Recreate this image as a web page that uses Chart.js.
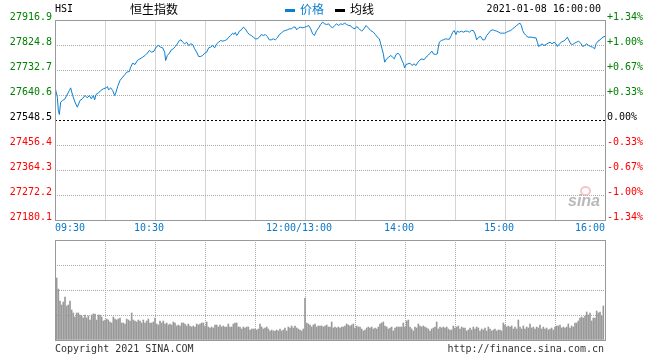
<!DOCTYPE html>
<html>
<head>
<meta charset="utf-8">
<script src="https://cdn.jsdelivr.net/npm/chart.js@4"></script>
<style>
  body { margin: 0; background: #fff; }
  #wrap { position: relative; width: 660px; height: 360px; overflow: hidden; font-family: "DejaVu Sans Mono", monospace; font-size: 10px; color: #000; }
  .t { position: absolute; white-space: nowrap; line-height: 12px; }
  .cjk { font-family: "Noto Sans CJK SC", sans-serif; font-size: 12px; line-height: 14px; }
  .key { position: absolute; width: 10px; height: 3px; }
  #cvPrice { position: absolute; left: 0; top: 0; }
  #cvVol { position: absolute; left: 0; top: 230px; }
  #logo { position: absolute; left: 568px; top: 193px; font: italic bold 16px "Liberation Sans", sans-serif; line-height: 16px; color: rgba(160,160,160,0.75); }
  #eye { position: absolute; left: 580px; top: 186px; width: 7px; height: 6px; border: 2px solid rgba(240,150,150,0.55); border-radius: 50%; }
</style>
</head>
<body>
<div id="wrap">
  <canvas id="cvPrice" width="660" height="240"></canvas>
  <canvas id="cvVol" width="660" height="120"></canvas>

  <div class="t" style="left:55px; top:3px;">HSI</div>
  <div class="t cjk" style="left:130px; top:2px;">恒生指数</div>
  <div class="key" style="left:285px; top:9px; background:#0a7fd0;"></div>
  <div class="t cjk" style="left:300px; top:2px; color:#0a7fd0;">价格</div>
  <div class="key" style="left:335px; top:9px; background:#000;"></div>
  <div class="t cjk" style="left:350px; top:2px;">均线</div>
  <div class="t" style="right:59px; top:3px;">2021-01-08 16:00:00</div>

  <div id="eye"></div>
  <div id="logo">sina</div>

  <div class="t" style="left:55px; top:343px; color:#333;">Copyright 2021 SINA.COM</div>
  <div class="t" style="right:56px; top:343px; color:#333;">http://finance.sina.com.cn</div>
</div>

<script>
// ---- dados ----
const prevClose = 27548.5;

// minutos de pregão desde 09:30 (almoço 12:00-13:00 removido)
const priceMinutes = [
  0, 1.4, 2, 2.6, 3.4, 4.6, 6, 7, 8.6, 9.4, 10.6, 12, 13.4, 15, 16.4, 18, 19.4, 20.6, 21.8, 23,
  23.8, 24.6, 26, 27.4, 29, 30.6, 31.4, 32.2, 33.4, 34.6, 35.8, 36.6, 37.8, 39, 40.6, 42, 43, 44.6, 45.4, 46.6,
  48, 49.4, 51, 52.6, 54, 55.4, 56.6, 58, 59.4, 60.6, 62, 63.4, 64.6, 65.8, 66.4, 67.4, 68.6, 69.8, 71, 72.2,
  73.4, 74.6, 75.6, 76.6, 77.8, 79, 80.2, 81.4, 82.6, 83.8, 85, 86.2, 87.4, 88.6, 89.8, 91, 92.2, 93.4, 94.6, 95.8,
  97, 98.2, 99.4, 100.6, 101.8, 103, 104.2, 105.4, 106.6, 107.4, 108.2, 109, 109.8, 110.6, 111.8, 113, 114.2, 115.4, 116.6, 117.8,
  119, 120.2, 121.4, 122.6, 123.8, 125, 126.2, 127.4, 128.6, 129.8, 131, 132.2, 133.4, 134.6, 135.8, 137, 138.2, 139.4, 140.6, 141.8,
  143, 144.2, 145, 146.2, 147.4, 148.6, 149.8, 151, 152.2, 153.4, 154.6, 155.6, 157, 158.2, 159.4, 160.6, 161.8, 163, 164.2, 165.4,
  166.6, 167.8, 169, 170.2, 171.4, 172.6, 173.8, 175, 176.2, 177, 178.6, 180, 181, 182.6, 184, 185.4, 186.6, 188, 189.4, 191,
  192.2, 193.4, 194.6, 195.4, 196.2, 197, 197.8, 199, 200.2, 201.4, 202.6, 203.6, 204.6, 205.8, 207, 208.2, 209, 209.8, 210.6, 211.8,
  213, 214.2, 215.4, 216.6, 217.8, 219, 220.2, 221.4, 222.6, 223.8, 225, 226.2, 227, 228.2, 229.4, 230, 230.6, 231.8, 233, 234.2,
  235.4, 236.6, 237.8, 238.6, 239.4, 240.6, 241.4, 242.6, 243.8, 245, 246.2, 247.4, 248.6, 249.8, 251, 252, 253, 254.2, 255.4, 256.6,
  257.8, 259, 260.2, 261.4, 262.6, 263.8, 265, 266.2, 267.4, 268.6, 269.8, 271, 272.2, 273.4, 274.6, 275.8, 277, 278.2, 279, 279.8,
  280.6, 281.4, 282.6, 283.8, 285, 286.2, 287.4, 288.6, 289.4, 290.2, 291, 292.2, 293.4, 294.6, 295.8, 297, 298.2, 299.4, 300.6, 301.4,
  302.6, 303.8, 305, 306.2, 307.4, 308.2, 309.4, 310.6, 311.8, 313, 314.2, 315.4, 316.6, 317.8, 319, 320.2, 321.4, 322.6, 323.8, 324.6,
  325.8, 327, 328.2, 329.4, 330
];

const priceValues = [
  27671.3, 27634.5, 27585.3, 27570.6, 27616.0, 27622.2, 27628.3, 27640.6, 27659.0, 27668.8, 27640.6, 27616.0, 27597.6, 27622.2, 27628.3, 27640.6, 27632.0, 27640.6, 27628.3, 27640.6,
  27624.6, 27644.3, 27649.2, 27659.0, 27665.2, 27668.8, 27673.8, 27661.5, 27668.8, 27659.0, 27640.6, 27652.9, 27677.4, 27695.9, 27708.1, 27718.0, 27726.6, 27729.0, 27745.0, 27759.7,
  27754.8, 27769.5, 27775.7, 27781.8, 27788.0, 27796.6, 27806.4, 27800.2, 27803.9, 27818.7, 27824.8, 27818.7, 27816.2, 27800.2, 27769.5, 27788.0, 27796.6, 27808.8, 27812.5, 27821.1,
  27830.9, 27843.2, 27845.7, 27837.1, 27830.9, 27837.1, 27824.8, 27830.9, 27828.5, 27812.5, 27800.2, 27784.3, 27784.3, 27788.0, 27796.6, 27800.2, 27816.2, 27818.7, 27824.8, 27816.2,
  27830.9, 27837.1, 27843.2, 27840.8, 27843.2, 27845.7, 27855.5, 27861.6, 27870.2, 27865.3, 27872.7, 27861.6, 27867.8, 27877.6, 27882.5, 27892.3, 27886.2, 27873.9, 27865.3, 27861.6,
  27855.5, 27849.4, 27849.4, 27855.5, 27865.3, 27861.6, 27865.3, 27857.9, 27845.7, 27845.7, 27849.4, 27845.7, 27853.0, 27865.3, 27870.2, 27877.6, 27880.0, 27882.5, 27886.2, 27886.2,
  27892.3, 27892.3, 27882.5, 27889.9, 27892.3, 27889.9, 27892.3, 27894.8, 27898.5, 27886.2, 27867.8, 27861.6, 27880.0, 27889.9, 27902.2, 27910.8, 27904.6, 27902.2, 27904.6, 27894.8,
  27889.9, 27898.5, 27904.6, 27898.5, 27904.6, 27902.2, 27907.1, 27902.2, 27898.5, 27898.5, 27889.9, 27886.2, 27894.8, 27886.2, 27877.6, 27886.2, 27898.5, 27889.9, 27880.0, 27873.9,
  27865.3, 27855.5, 27849.4, 27830.9, 27812.5, 27794.1, 27763.4, 27775.7, 27781.8, 27788.0, 27781.8, 27775.7, 27791.6, 27796.6, 27788.0, 27769.5, 27759.7, 27742.5, 27754.8, 27757.3,
  27759.7, 27751.1, 27757.3, 27751.1, 27763.4, 27772.0, 27775.7, 27772.0, 27781.8, 27788.0, 27796.6, 27803.9, 27794.1, 27791.6, 27794.1, 27818.7, 27837.1, 27843.2, 27845.7, 27849.4,
  27848.1, 27848.1, 27861.6, 27873.9, 27880.0, 27865.3, 27877.6, 27873.9, 27877.6, 27873.9, 27877.6, 27877.6, 27873.9, 27880.0, 27880.0, 27867.8, 27845.7, 27855.5, 27857.9, 27845.7,
  27845.7, 27861.6, 27870.2, 27880.0, 27882.5, 27880.0, 27877.6, 27873.9, 27870.2, 27870.2, 27870.2, 27873.9, 27877.6, 27880.0, 27886.2, 27892.3, 27898.5, 27904.6, 27907.1, 27898.5,
  27880.0, 27870.2, 27861.6, 27855.5, 27855.5, 27855.5, 27853.0, 27853.0, 27837.1, 27821.1, 27824.8, 27830.9, 27824.8, 27828.5, 27833.4, 27837.1, 27830.9, 27837.1, 27830.9, 27821.1,
  27830.9, 27837.1, 27840.8, 27845.7, 27855.5, 27845.7, 27830.9, 27828.5, 27833.4, 27837.1, 27840.8, 27833.4, 27821.1, 27824.8, 27830.9, 27824.8, 27821.1, 27818.7, 27812.5, 27830.9,
  27840.8, 27845.7, 27853.0, 27857.9, 27857.9
];

// volume por minuto (valor relativo, 100 = topo do painel)
const volumes = [
  62, 51, 39, 35, 38, 43, 34, 35, 39, 30, 27, 23, 27, 27, 25, 24, 22, 25, 22, 24,
  20, 25, 26, 26, 20, 25, 25, 23, 19, 20, 21, 20, 18, 17, 23, 21, 20, 21, 22, 17,
  17, 16, 21, 20, 19, 27, 20, 19, 18, 20, 19, 17, 20, 17, 19, 21, 17, 17, 18, 22,
  16, 15, 19, 17, 19, 16, 17, 15, 16, 15, 18, 17, 14, 15, 14, 17, 17, 16, 14, 16,
  14, 13, 14, 13, 16, 15, 16, 17, 17, 14, 18, 13, 12, 13, 12, 15, 15, 13, 15, 13,
  14, 13, 13, 16, 13, 13, 16, 17, 17, 13, 13, 11, 13, 12, 13, 13, 10, 11, 11, 11,
  10, 11, 16, 13, 11, 12, 13, 11, 9, 10, 9, 9, 10, 9, 11, 9, 10, 12, 9, 13,
  12, 14, 12, 14, 12, 11, 10, 9, 11, 42, 17, 16, 15, 13, 15, 16, 13, 14, 14, 14,
  13, 14, 15, 13,
  13, 18, 12, 13, 12, 13, 12, 13, 13, 14, 16, 15, 14, 15, 16, 12, 14, 13, 13, 11,
  9, 10, 12, 13, 12, 13, 11, 12, 11, 13, 16, 17, 18, 14, 13, 11, 12, 13, 9, 12,
  13, 13, 13, 13, 17, 13, 19, 20, 13, 11, 9, 13, 12, 16, 14, 13, 14, 13, 12, 11,
  9, 11, 12, 13, 18, 11, 13, 12, 13, 12, 13, 11, 10, 10, 14, 12, 13, 14, 11, 13,
  12, 12, 9, 10, 12, 10, 13, 11, 13, 12, 9, 11, 10, 12, 9, 13, 11, 9, 10, 11,
  9, 10, 10, 9, 17, 15, 13, 14, 13, 14, 11, 13, 11, 20, 13, 11, 14, 11, 13, 12,
  16, 12, 13, 11, 13, 12, 15, 11, 13, 11, 12, 10, 11, 12, 10, 13, 14, 14, 15, 12,
  13, 12, 13, 16, 12, 14, 13, 17, 17, 19, 22, 23, 22, 24, 28, 25, 27, 19, 22, 22,
  29, 27, 28, 24, 34
];

// eixos
const priceTicks = [27180.1, 27272.2, 27364.3, 27456.4, 27548.5, 27640.6, 27732.7, 27824.8, 27916.9];
const pctLabels = ['-1.34%', '-1.00%', '-0.67%', '-0.33%', '0.00%', '+0.33%', '+0.67%', '+1.00%', '+1.34%'];
const gridMinutes = [0, 30, 60, 90, 120, 150, 180, 210, 240, 270, 300, 330];
const timeMinutes = [0, 60, 150, 210, 270, 330];
const timeLabels = ['09:30', '10:30', '12:00/13:00', '14:00', '15:00', '16:00'];
const volTicks = [0, 25, 50, 75, 100];

(function () {
  const MONO = '"DejaVu Sans Mono", monospace';
  const GRID = '#aaaaaa';
  const FRAME = '#999999';
  const LINE = '#0a7fd0';

  // moldura cinza em volta da área de plotagem
  const framePlugin = {
    id: 'frame',
    afterDraw(chart) {
      const { ctx, chartArea: a } = chart;
      const l = Math.floor(a.left), t = Math.floor(a.top);
      ctx.save();
      ctx.strokeStyle = FRAME;
      ctx.lineWidth = 1;
      ctx.strokeRect(l + 0.5, t + 0.5, Math.floor(a.right) - l, Math.floor(a.bottom) - t);
      ctx.restore();
    }
  };

  // rótulos de horário (primeiro à esquerda, último à direita)
  const timeLabelPlugin = {
    id: 'timeLabels',
    afterDraw(chart) {
      const { ctx, chartArea: a } = chart;
      const xs = chart.scales.x;
      ctx.save();
      ctx.font = '10px ' + MONO;
      ctx.fillStyle = '#0a78c8';
      ctx.textBaseline = 'middle';
      const last = timeMinutes.length - 1;
      timeMinutes.forEach((m, i) => {
        const px = xs.getPixelForValue(m);
        if (i === 0) {
          ctx.textAlign = 'left';
          ctx.fillText(timeLabels[i], px, a.bottom + 8);
        } else if (i === last) {
          ctx.textAlign = 'right';
          ctx.fillText(timeLabels[i], px, a.bottom + 8);
        } else {
          ctx.textAlign = 'center';
          ctx.fillText(timeLabels[i], px - 6, a.bottom + 8);
        }
      });
      ctx.restore();
    }
  };

  function tickColor(v) {
    if (Math.abs(v - prevClose) < 0.01) return '#000';
    return v > prevClose ? '#008000' : '#ff0000';
  }

  const setTicks = (arr) => (axis) => { axis.ticks = arr.map(v => ({ value: v })); };

  const priceCtx = document.getElementById('cvPrice').getContext('2d');
  new Chart(priceCtx, {
    type: 'line',
    data: {
      datasets: [{
        data: [{ x: 0, y: prevClose }, { x: 330, y: prevClose }],
        borderColor: '#000',
        borderWidth: 1,
        borderDash: [2, 2],
        pointRadius: 0
      }, {
        data: priceMinutes.map((m, i) => ({ x: m, y: priceValues[i] })),
        borderColor: LINE,
        borderWidth: 1,
        pointRadius: 0,
        tension: 0
      }]
    },
    options: {
      responsive: false,
      animation: false,
      layout: { padding: { top: 20.5 } },
      plugins: { legend: { display: false }, tooltip: { enabled: false } },
      scales: {
        x: {
          type: 'linear', min: 0, max: 330,
          afterBuildTicks: setTicks(gridMinutes),
          afterFit: (ax) => { ax.height = 19.5; },
          ticks: { display: false },
          grid: { color: GRID, drawTicks: false },
          border: { display: false, dash: [1, 1] }
        },
        y: {
          position: 'left', min: priceTicks[0], max: priceTicks[priceTicks.length - 1],
          afterBuildTicks: setTicks(priceTicks),
          afterFit: (ax) => { ax.width = 55; },
          ticks: {
            autoSkip: false,
            padding: 3,
            labelOffset: -3,
            font: { family: MONO, size: 10 },
            color: (c) => tickColor(c.tick.value),
            callback: (v) => Number(v).toFixed(1)
          },
          grid: {
            color: (c) => (c.tick && Math.abs(c.tick.value - prevClose) < 0.01) ? 'rgba(0,0,0,0)' : GRID,
            drawTicks: false
          },
          border: { display: false, dash: [1, 1] }
        },
        yr: {
          position: 'right', min: priceTicks[0], max: priceTicks[priceTicks.length - 1],
          afterBuildTicks: setTicks(priceTicks),
          afterFit: (ax) => { ax.width = 55; },
          ticks: {
            autoSkip: false,
            padding: 2,
            labelOffset: -3,
            font: { family: MONO, size: 10 },
            color: (c) => tickColor(c.tick.value),
            callback: (v, i) => pctLabels[i]
          },
          grid: { drawOnChartArea: false, drawTicks: false },
          border: { display: false }
        }
      }
    },
    plugins: [framePlugin, timeLabelPlugin]
  });

  const volCtx = document.getElementById('cvVol').getContext('2d');
  new Chart(volCtx, {
    type: 'bar',
    data: {
      datasets: [{
        data: volumes.map((v, i) => ({ x: i + 1, y: v })),
        backgroundColor: '#999999',
        barThickness: 1
      }]
    },
    options: {
      responsive: false,
      animation: false,
      layout: { padding: { top: 10, right: 55 } },
      plugins: { legend: { display: false }, tooltip: { enabled: false } },
      scales: {
        x: {
          type: 'linear', min: 0, max: 330, offset: false,
          afterBuildTicks: setTicks(gridMinutes),
          afterFit: (ax) => { ax.height = 10; },
          ticks: { display: false },
          grid: { color: GRID, drawTicks: false, offset: false },
          border: { display: false, dash: [1, 1] }
        },
        y: {
          min: 0, max: 100,
          afterBuildTicks: setTicks(volTicks),
          afterFit: (ax) => { ax.width = 55; },
          ticks: { display: false },
          grid: { color: GRID, drawTicks: false },
          border: { display: false, dash: [1, 1] }
        }
      }
    },
    plugins: [framePlugin]
  });
})();
</script>
</body>
</html>
